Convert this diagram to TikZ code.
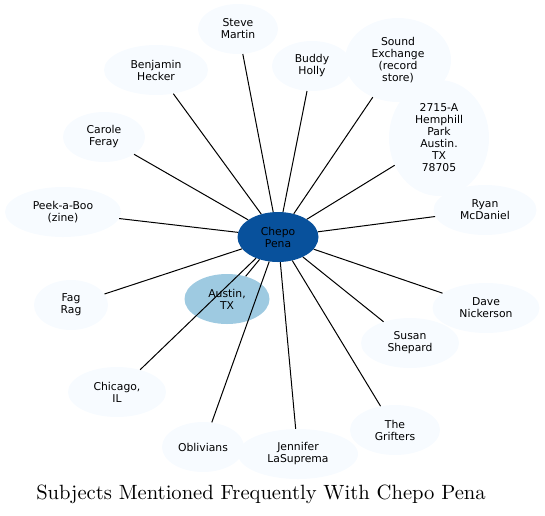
\documentclass[tikz,border=0pt]{standalone}
\usepackage{fontspec}
\newfontfamily\labelfont{DejaVu Sans}
\newfontfamily\titlefont[Extension=.otf]{lmroman10-regular}
\usetikzlibrary{shapes.geometric}
\definecolor{hubblue}{HTML}{08519C}
\definecolor{cityblue}{HTML}{9ECAE1}
\definecolor{paleblue}{HTML}{F7FBFF}

\begin{document}
\begin{tikzpicture}[
  x=1pt, y=-1pt,
  topic/.style={ellipse, fill=paleblue, inner sep=0pt, align=center,
    font=\labelfont\fontsize{10.8}{12}\selectfont, minimum height=50pt},
  hub/.style={topic, fill=hubblue},
  city/.style={topic, fill=cityblue},
  edge/.style={draw=black, line width=1pt}
]
  \useasboundingbox (0,0) rectangle (545,515);

  \node[hub, minimum width=81pt] (chepo) at (278,237) {Chepo\\Pena};
  \node[city, minimum width=85pt] (austin) at (227,299) {Austin,\\TX};

  \node[topic, minimum width=80pt] (steve) at (238,29) {Steve\\Martin};
  \node[topic, minimum width=104pt] (hecker) at (156,70) {Benjamin\\Hecker};
  \node[topic, minimum width=80pt] (holly) at (312,66) {Buddy\\Holly};
  \node[topic, minimum width=106pt, minimum height=84pt] (sound) at (398,60) {Sound\\Exchange\\(record\\store)};
  \node[topic, minimum width=100pt, minimum height=116pt] (hemphill) at (439,138) {2715-A\\Hemphill\\Park\\Austin.\\TX\\78705};
  \node[topic, minimum width=82pt] (feray) at (104,137) {Carole\\Feray};
  \node[topic, minimum width=116pt] (peek) at (63,212) {Peek-a-Boo\\(zine)};
  \node[topic, minimum width=103pt] (ryan) at (485,210) {Ryan\\McDaniel};
  \node[topic, minimum width=74pt] (fagrag) at (71,305) {Fag\\Rag};
  \node[topic, minimum width=107pt] (dave) at (486,308) {Dave\\Nickerson};
  \node[topic, minimum width=98pt] (susan) at (410,343) {Susan\\Shepard};
  \node[topic, minimum width=98pt] (chicago) at (117,392) {Chicago,\\IL};
  \node[topic, minimum width=90pt] (grifters) at (395,430) {The\\Grifters};
  \node[topic, minimum width=82pt] (oblivians) at (203,447) {Oblivians};
  \node[topic, minimum width=120pt] (jennifer) at (298,454) {Jennifer\\LaSuprema};

  % spokes from the hub
  \foreach \t in {austin, steve, hecker, holly, sound, hemphill, feray, peek,
                  ryan, fagrag, dave, susan, chicago, grifters, oblivians, jennifer}
    \draw[edge] (chepo) -- (\t);

  \node[font=\titlefont\fontsize{20.6}{24}\selectfont] (title) at (261,494)
    {Subjects Mentioned Frequently With Chepo Pena};
\end{tikzpicture}
\end{document}
